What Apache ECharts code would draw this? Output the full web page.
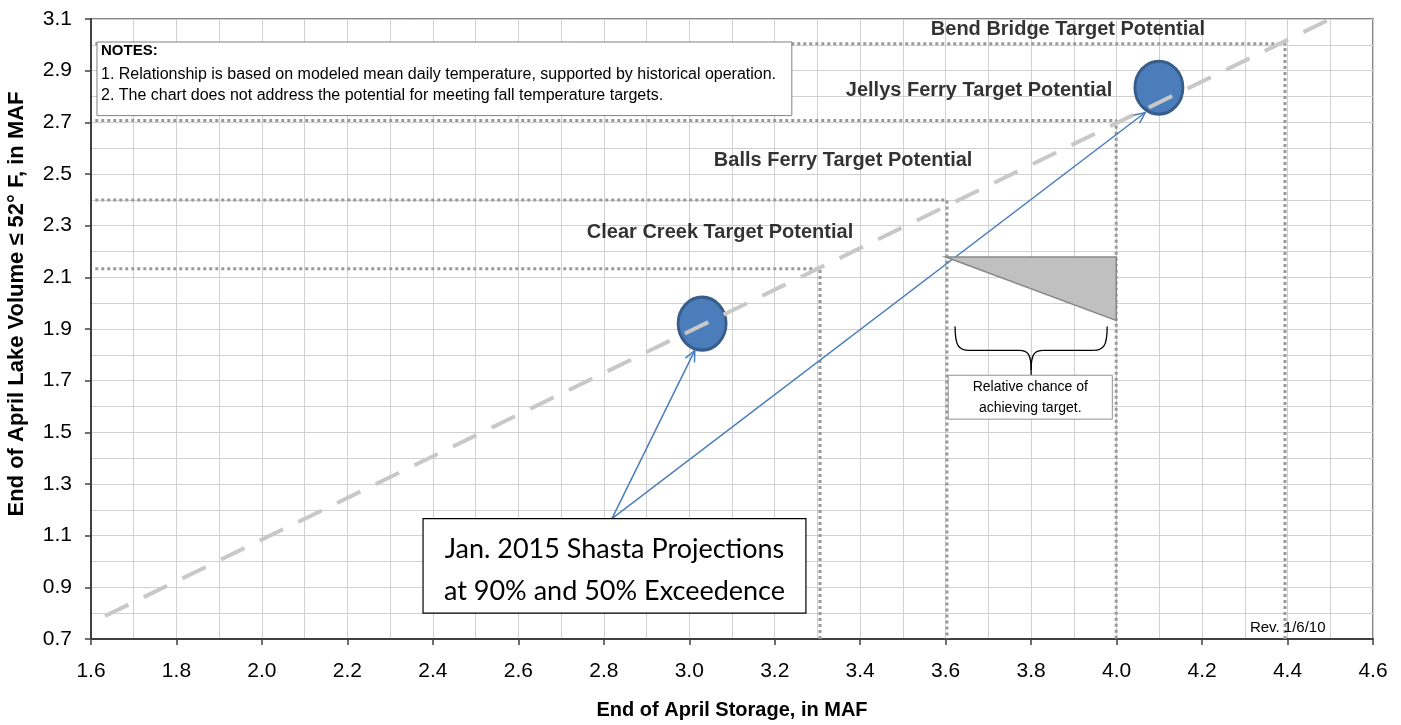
<!DOCTYPE html>
<html>
<head>
<meta charset="utf-8">
<script src="https://cdn.jsdelivr.net/npm/echarts@6/dist/echarts.min.js"></script>
<style>
  html, body { margin: 0; padding: 0; background: #fff; }
  #chart { width: 1401px; height: 725px; }
</style>
</head>
<body>
<div id="chart"></div>
<script>
// axis ranges (tick labels every 0.2, grid every 0.1)
var xMin = 1.6, xMax = 4.6, xStep = 0.2;
var yMin = 0.7, yMax = 3.1, yStep = 0.2;

// dashed relationship line
var trendLine = [[1.633, 0.789], [4.5, 3.1]];

// temperature target potentials
var targetNames = ['Clear Creek Target Potential', 'Balls Ferry Target Potential', 'Jellys Ferry Target Potential', 'Bend Bridge Target Potential'];
var targetStorage = [3.306, 3.603, 3.999, 4.394];
var targetVolume = [2.133, 2.399, 2.707, 3.004];
var targetLabelAt = [[3.072, 2.275], [3.36, 2.553], [3.678, 2.822], [3.886, 3.061]];

// Jan. 2015 projections (90% and 50% exceedence)
var projections = [[3.03, 1.921], [4.099, 2.834]];
var arrowFrom = [2.819, 1.166];
var arrowTo = [[3.013, 1.817], [4.067, 2.738]];

// relative chance wedge
var chanceTriangle = [[3.6, 2.179], [3.999, 2.179], [3.999, 1.933]];

var myChart = echarts.init(document.getElementById('chart'));
var font = 'Liberation Sans, Arial, sans-serif';

var series = [];
// dotted target lines
for (var i = 0; i < targetNames.length; i++) {
  series.push({
    type: 'line',
    data: [[1.61, targetVolume[i]], [targetStorage[i], targetVolume[i]], [targetStorage[i], yMin]],
    showSymbol: false,
    silent: true,
    z: 2,
    lineStyle: { color: '#999999', width: 3, type: [3, 3] }
  });
}
// blue projection dots
series.push({
  type: 'scatter',
  data: projections,
  symbolSize: [48, 53],
  z: 3,
  itemStyle: { color: '#4a7dba', borderColor: '#385d8a', borderWidth: 3, opacity: 1 }
});
// arrow shafts
for (var j = 0; j < arrowTo.length; j++) {
  series.push({
    type: 'line',
    data: [arrowFrom, arrowTo[j]],
    showSymbol: false,
    z: 4,
    lineStyle: { color: '#4a7ebb', width: 1.5 }
  });
}
// dashed relationship
series.push({
  type: 'line',
  data: trendLine,
  showSymbol: false,
  z: 5,
  lineStyle: { color: '#c8c8c8', width: 4, type: [26, 17] }
});
// target labels
series.push({
  type: 'scatter',
  data: targetLabelAt.map(function (p, k) { return { value: p, name: targetNames[k] }; }),
  symbolSize: 0,
  z: 6,
  label: {
    show: true, position: 'inside', formatter: '{b}',
    fontFamily: font, fontWeight: 'bold', fontSize: 20, color: '#000'
  }
});

var option = {
  animation: false,
  grid: { left: 91, right: 28, top: 19, bottom: 83, show: true, borderColor: '#868686', borderWidth: 2 },
  xAxis: {
    type: 'value', min: xMin, max: xMax, interval: xStep,
    name: 'End of April Storage, in MAF', nameLocation: 'middle', nameGap: 61,
    nameTextStyle: { fontFamily: font, fontWeight: 'bold', fontSize: 20, color: '#000' },
    axisLine: { onZero: false, lineStyle: { color: '#404040', width: 2 } },
    axisTick: { show: true, length: 6, lineStyle: { color: '#404040', width: 1.5 } },
    axisLabel: { fontFamily: font, fontSize: 21, color: '#000', margin: 22, formatter: function (v) { return v.toFixed(1); } },
    splitLine: { lineStyle: { color: '#d0d0d0', width: 1 } },
    minorTick: { show: false, splitNumber: 2 },
    minorSplitLine: { show: true, lineStyle: { color: '#d0d0d0', width: 1 } }
  },
  yAxis: {
    type: 'value', min: yMin, max: yMax, interval: yStep,
    axisLine: { onZero: false, lineStyle: { color: '#404040', width: 2 } },
    axisTick: { show: true, length: 6, lineStyle: { color: '#404040', width: 1.5 } },
    axisLabel: { fontFamily: font, fontSize: 21, color: '#000', margin: 19, formatter: function (v) { return v.toFixed(1); } },
    splitLine: { lineStyle: { color: '#d0d0d0', width: 1 } },
    minorTick: { show: false, splitNumber: 2 },
    minorSplitLine: { show: true, lineStyle: { color: '#d0d0d0', width: 1 } }
  },
  series: series
};
myChart.setOption(option);

// annotations placed from data coordinates
function px(p) { return myChart.convertToPixel({ gridIndex: 0 }, p); }

var g = [];
// y axis title
g.push({ type: 'text', x: 17, y: 304, rotation: Math.PI / 2, style: {
  text: 'End of April Lake Volume \u2264 52\u00b0 F, in MAF', font: 'bold 22px ' + font, fill: '#000',
  align: 'center', verticalAlign: 'middle' } });

// notes box
var n0 = px([1.614, 3.011]), n1 = px([3.24, 2.726]);
g.push({ type: 'rect', z: 10, shape: { x: n0[0], y: n0[1], width: n1[0] - n0[0], height: n1[1] - n0[1] },
  style: { fill: '#fff', stroke: '#808080', lineWidth: 1 } });
g.push({ type: 'text', z: 11, x: n0[0] + 4, y: n0[1] + 9, style: { text: 'NOTES:', font: 'bold 15px ' + font, fill: '#000', verticalAlign: 'middle' } });
g.push({ type: 'text', z: 11, x: n0[0] + 4, y: n0[1] + 22, style: {
  text: '1. Relationship is based on modeled mean daily temperature, supported by historical operation.\n2. The chart does not address the potential for meeting fall temperature targets.',
  font: '16px ' + font, fill: '#000', lineHeight: 21 } });

// big projection box
var b0 = px([2.377, 1.166]), b1 = px([3.273, 0.80]);
g.push({ type: 'rect', z: 10, shape: { x: b0[0], y: b0[1], width: b1[0] - b0[0], height: b1[1] - b0[1] },
  style: { fill: '#fff', stroke: '#000', lineWidth: 1.2 } });
g.push({ type: 'text', z: 11, x: (b0[0] + b1[0]) / 2, y: (b0[1] + b1[1]) / 2 + 4, style: {
  text: 'Jan. 2015 Shasta Projections\nat 90% and 50% Exceedence', font: '27px Lato, sans-serif', fill: '#000',
  align: 'center', verticalAlign: 'middle', lineHeight: 42 } });

// arrow heads
arrowTo.forEach(function (t) {
  var s = px(arrowFrom), e = px(t);
  var dx = e[0] - s[0], dy = e[1] - s[1], L = Math.sqrt(dx * dx + dy * dy);
  var ux = dx / L, uy = dy / L;
  g.push({ type: 'polyline', z: 12, shape: { points: [
    [e[0] - 11 * ux + 5 * uy, e[1] - 11 * uy - 5 * ux], e, [e[0] - 11 * ux - 5 * uy, e[1] - 11 * uy + 5 * ux]] },
    style: { stroke: '#4a7ebb', lineWidth: 1.5, fill: null } });
});

// chance wedge
g.push({ type: 'polygon', z: 9, shape: { points: chanceTriangle.map(px) },
  style: { fill: '#c0c0c0', stroke: '#888', lineWidth: 1.5 } });

// brace
var bl = px([3.622, 1.91]), br = px([3.978, 1.91]), bm = px([3.8, 1.817]), bt = px([3.8, 1.721]);
var braceStyle = { stroke: '#000', lineWidth: 1.3, fill: null };
[-1, 1].forEach(function (sgn) {
  var ex = sgn < 0 ? bl[0] : br[0];
  g.push({ type: 'bezierCurve', z: 10, shape: {
    x1: ex, y1: bl[1], x2: ex - sgn * 14, y2: bm[1],
    cpx1: ex, cpy1: bm[1] - 4, cpx2: ex - sgn * 4, cpy2: bm[1] }, style: braceStyle });
  g.push({ type: 'line', z: 10, shape: { x1: ex - sgn * 14, y1: bm[1], x2: bm[0] + sgn * 12, y2: bm[1] }, style: braceStyle });
  g.push({ type: 'bezierCurve', z: 10, shape: {
    x1: bm[0] + sgn * 12, y1: bm[1], x2: bm[0], y2: bt[1] - 5,
    cpx1: bm[0] + sgn * 3, cpy1: bm[1], cpx2: bm[0], cpy2: bm[1] + 4 }, style: braceStyle });
});
g.push({ type: 'line', z: 10, shape: { x1: bm[0], y1: bt[1] - 5, x2: bm[0], y2: bt[1] }, style: braceStyle });

// relative chance box
var r0 = px([3.606, 1.721]), r1 = px([3.99, 1.551]);
g.push({ type: 'rect', z: 10, shape: { x: r0[0], y: r0[1], width: r1[0] - r0[0], height: r1[1] - r0[1] },
  style: { fill: '#fff', stroke: '#909090', lineWidth: 1 } });
g.push({ type: 'text', z: 11, x: (r0[0] + r1[0]) / 2, y: (r0[1] + r1[1]) / 2, style: {
  text: 'Relative chance of\nachieving target.', font: '14px ' + font, fill: '#000',
  align: 'center', verticalAlign: 'middle', lineHeight: 21 } });

// revision note
var rv = px([4.312, 0.745]);
g.push({ type: 'text', z: 11, x: rv[0], y: rv[1], style: { text: 'Rev. 1/6/10', font: '15px ' + font, fill: '#000', verticalAlign: 'middle' } });

myChart.setOption({ graphic: g });
</script>
</body>
</html>
